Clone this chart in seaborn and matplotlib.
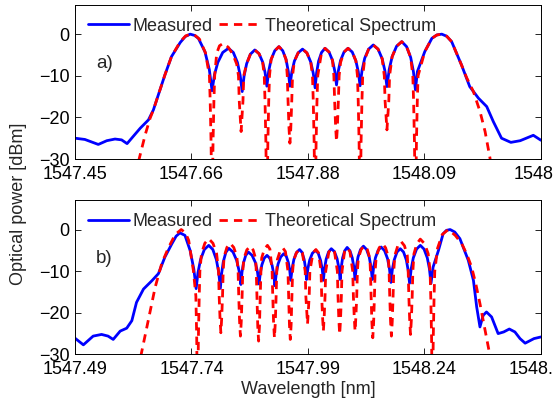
import matplotlib
matplotlib.use("Agg")
import matplotlib.pyplot as plt
import seaborn as sns
from matplotlib.lines import Line2D

# ---- panel a) ----
top_meas_wl = [
    1547.450, 1547.468, 1547.4925, 1547.508, 1547.523, 1547.535, 1547.545, 1547.556, 1547.569, 1547.584,
    1547.593, 1547.602, 1547.614, 1547.626, 1547.642, 1547.651, 1547.660, 1547.668, 1547.675, 1547.687,
    1547.695, 1547.700,
    1547.7045, 1547.7105, 1547.7195, 1547.730, 1547.7388, 1547.7463, 1547.7513, 1547.755,
    1547.7585, 1547.7631, 1547.7700, 1547.778, 1547.7857, 1547.7923, 1547.7967, 1547.800,
    1547.8033, 1547.8077, 1547.8143, 1547.822, 1547.829, 1547.835, 1547.839, 1547.842,
    1547.8455, 1547.8501, 1547.857, 1547.865, 1547.873, 1547.880, 1547.8846, 1547.888,
    1547.8907, 1547.8943, 1547.8997, 1547.906, 1547.9134, 1547.9197, 1547.9239, 1547.927,
    1547.9302, 1547.9344, 1547.9407, 1547.948, 1547.9557, 1547.9623, 1547.9667, 1547.970,
    1547.9736, 1547.9784, 1547.9856, 1547.994, 1548.0028, 1548.0103, 1548.0153, 1548.019,
    1548.0231, 1548.0285, 1548.0366, 1548.046, 1548.0548, 1548.0623, 1548.0673, 1548.071,
    1548.0745, 1548.088, 1548.101, 1548.110, 1548.119, 1548.128, 1548.137, 1548.155, 1548.170, 1548.186,
    1548.201, 1548.213, 1548.228, 1548.245, 1548.262, 1548.286, 1548.300]
top_meas_db = [
    -25.0, -25.3, -26.5, -25.6, -25.2, -25.4, -26.3, -24.6, -22.6, -20.6,
    -18.2, -14.6, -9.8, -5.4, -2.0, -0.6, 0.0, -0.3, -1.0, -4.2,
    -8.5, -13.6,
    -9.7, -6.8, -4.4, -3.4, -4.4, -6.8, -9.9, -13.8,
    -10.0, -7.1, -4.8, -3.8, -4.7, -6.7, -9.2, -12.5,
    -8.9, -6.1, -4.0, -3.0, -4.0, -6.1, -8.9, -12.5,
    -9.1, -6.5, -4.5, -3.6, -4.5, -6.7, -9.4, -12.9,
    -9.3, -6.5, -4.4, -3.4, -4.3, -6.3, -8.9, -12.2,
    -8.9, -6.3, -4.3, -3.4, -4.3, -6.4, -9.0, -12.4,
    -8.7, -5.8, -3.6, -2.6, -3.6, -5.9, -8.8, -12.6,
    -8.5, -5.4, -2.9, -1.8, -3.0, -5.6, -9.0, -13.4,
    -9.0, -4.2, -1.0, -0.2, 0.0, -0.5, -1.8, -7.4, -12.6, -15.4,
    -17.4, -21.0, -25.0, -26.0, -25.6, -24.3, -25.5]

top_theo_wl = [
    1547.562, 1547.567, 1547.578, 1547.587, 1547.593, 1547.602, 1547.614, 1547.626, 1547.642, 1547.652,
    1547.662, 1547.670, 1547.677, 1547.688,
    1547.6952, 1547.6966, 1547.6982, 1547.700, 1547.7018, 1547.7034, 1547.7048,
    1547.7085, 1547.7135, 1547.7205, 1547.730, 1547.7385, 1547.745,
    1547.7482, 1547.7496, 1547.7514, 1547.753, 1547.7546, 1547.7564, 1547.7578,
    1547.7631, 1547.770, 1547.778, 1547.7857, 1547.7923,
    1547.7952, 1547.7966, 1547.7982, 1547.800, 1547.8018, 1547.8034, 1547.8048,
    1547.8077, 1547.8143, 1547.822, 1547.829, 1547.835,
    1547.8372, 1547.8386, 1547.8404, 1547.842, 1547.8436, 1547.8454, 1547.8468,
    1547.8501, 1547.857, 1547.865, 1547.873, 1547.880,
    1547.8832, 1547.8846, 1547.8862, 1547.888, 1547.8898, 1547.8914, 1547.8928,
    1547.8997, 1547.906, 1547.9134, 1547.9197,
    1547.9222, 1547.9236, 1547.9254, 1547.927, 1547.9286, 1547.9304, 1547.9318,
    1547.9344, 1547.9407, 1547.948, 1547.9557, 1547.9623,
    1547.9652, 1547.9666, 1547.9682, 1547.970, 1547.9718, 1547.9734, 1547.9748,
    1547.9784, 1547.9856, 1547.994, 1548.0028, 1548.0103,
    1548.0142, 1548.0156, 1548.0174, 1548.019, 1548.0206, 1548.0224, 1548.0238,
    1548.0285, 1548.0366, 1548.046, 1548.0548, 1548.0623,
    1548.0662, 1548.0676, 1548.0692, 1548.071, 1548.0728, 1548.0744, 1548.0758,
    1548.088, 1548.101, 1548.110, 1548.119, 1548.128, 1548.137, 1548.155, 1548.1645,
    1548.1767, 1548.1888, 1548.198, 1548.207, 1548.210]
top_theo_db = [
    -34.0, -30.0, -24.2, -20.2, -18.2, -14.6, -9.8, -5.4, -1.8, -0.4,
    0.0, -0.4, -1.2, -4.5,
    -10.0, -16.0, -26.0, -45.0, -26.0, -16.0, -10.0,
    -4.6, -2.8, -2.2, -3.2, -5.0, -7.2,
    -10.0, -16.0, -19.9, -23.4, -19.9, -16.0, -10.0,
    -7.1, -4.8, -3.8, -4.7, -6.7,
    -10.0, -16.0, -26.0, -45.0, -26.0, -16.0, -10.0,
    -6.1, -4.0, -3.0, -4.0, -6.1,
    -10.0, -16.0, -22.7, -26.2, -22.7, -16.0, -10.0,
    -6.5, -4.5, -3.6, -4.5, -6.7,
    -10.0, -16.0, -26.0, -45.0, -26.0, -16.0, -10.0,
    -4.4, -3.4, -4.3, -6.3,
    -10.0, -16.0, -22.3, -25.8, -22.3, -16.0, -10.0,
    -6.8, -4.3, -3.4, -4.3, -6.4,
    -10.0, -16.0, -26.0, -45.0, -26.0, -16.0, -10.0,
    -6.0, -3.6, -2.6, -3.6, -5.9,
    -10.0, -16.0, -19.5, -23.0, -19.5, -16.0, -10.0,
    -5.4, -2.9, -1.8, -3.0, -5.6,
    -10.0, -16.0, -26.0, -45.0, -26.0, -16.0, -10.0,
    -4.2, -1.0, -0.2, 0.0, -0.5, -1.8, -7.4, -10.5,
    -13.8, -18.6, -23.4, -29.8, -34.0]

# ---- panel b) ----
bot_meas_wl = [
    1547.490, 1547.508, 1547.529, 1547.547, 1547.561, 1547.572, 1547.587, 1547.601, 1547.612, 1547.622,
    1547.637, 1547.655, 1547.669, 1547.683, 1547.698, 1547.707, 1547.715, 1547.726, 1547.737, 1547.745,
    1547.750,
    1547.754, 1547.7595, 1547.7676, 1547.777, 1547.7858, 1547.7933, 1547.7983, 1547.802,
    1547.8047, 1547.8083, 1547.8137, 1547.820, 1547.8291, 1547.8369, 1547.8421, 1547.846,
    1547.8484, 1547.8516, 1547.8564, 1547.862, 1547.870, 1547.877, 1547.8816, 1547.885,
    1547.8876, 1547.891, 1547.896, 1547.902, 1547.908, 1547.913, 1547.9165, 1547.919,
    1547.9219, 1547.9257, 1547.9314, 1547.938, 1547.9433, 1547.9478, 1547.9508, 1547.953,
    1547.9559, 1547.9597, 1547.9654, 1547.972, 1547.9773, 1547.9818, 1547.9848, 1547.987,
    1547.9899, 1547.9937, 1547.9994, 1548.006, 1548.012, 1548.017, 1548.0205, 1548.023,
    1548.0256, 1548.029, 1548.034, 1548.040, 1548.0467, 1548.0524, 1548.0562, 1548.059,
    1548.0613, 1548.0643, 1548.0688, 1548.074, 1548.080, 1548.085, 1548.0885, 1548.091,
    1548.0937, 1548.0973, 1548.1027, 1548.109, 1548.1157, 1548.1214, 1548.1252, 1548.128,
    1548.1309, 1548.1347, 1548.1404, 1548.147, 1548.1544, 1548.1607, 1548.1649, 1548.168,
    1548.171, 1548.175, 1548.181, 1548.188, 1548.195, 1548.201, 1548.205, 1548.208,
    1548.2115, 1548.216, 1548.223, 1548.231, 1548.239, 1548.246, 1548.2505, 1548.254,
    1548.2585, 1548.270, 1548.280, 1548.287, 1548.295, 1548.305, 1548.316, 1548.334, 1548.345, 1548.352,
    1548.359, 1548.366, 1548.373, 1548.384, 1548.398, 1548.410, 1548.422, 1548.434, 1548.445, 1548.456,
    1548.475, 1548.490]
bot_meas_db = [
    -26.1, -27.7, -25.6, -25.2, -25.6, -26.4, -24.4, -23.7, -21.9, -17.5,
    -14.3, -12.3, -10.6, -6.6, -3.4, -1.6, -0.8, -1.4, -5.0, -9.5,
    -14.2,
    -10.3, -7.2, -4.8, -3.8, -4.8, -7.2, -10.2, -14.1,
    -10.5, -7.7, -5.5, -4.5, -5.4, -7.4, -9.9, -13.2,
    -10.2, -8.0, -6.2, -5.4, -6.2, -7.9, -10.2, -13.1,
    -10.5, -8.5, -6.9, -6.2, -6.9, -8.6, -10.7, -13.5,
    -10.6, -8.3, -6.6, -5.8, -6.4, -7.9, -9.8, -12.2,
    -9.4, -7.2, -5.5, -4.8, -5.5, -7.2, -9.3, -12.0,
    -9.3, -7.3, -5.7, -5.0, -5.7, -7.4, -9.5, -12.2,
    -9.3, -7.1, -5.4, -4.6, -5.3, -7.0, -9.2, -12.0,
    -9.1, -6.8, -5.1, -4.3, -5.1, -6.8, -9.1, -12.0,
    -9.0, -6.6, -4.8, -4.0, -4.8, -6.6, -9.0, -12.0,
    -9.0, -6.8, -5.0, -4.2, -5.1, -7.0, -9.5, -12.7,
    -9.6, -7.3, -5.4, -4.6, -5.4, -7.3, -9.8, -12.9,
    -9.4, -6.8, -4.7, -3.8, -4.7, -6.8, -9.4, -12.9,
    -9.0, -5.0, -1.0, -0.2, 0.0, -0.6, -2.2, -7.4, -12.2, -18.6,
    -23.4, -20.6, -19.8, -21.0, -25.0, -24.6, -23.9, -24.6, -26.2, -27.3,
    -26.2, -25.8]

bot_theo_wl = [
    1547.629, 1547.632, 1547.647, 1547.662, 1547.676, 1547.690, 1547.705, 1547.718, 1547.727, 1547.734,
    1547.744,
    1547.7494, 1547.7512, 1547.753, 1547.7548, 1547.7566, 1547.758,
    1547.7614, 1547.7686, 1547.777, 1547.7861, 1547.7939,
    1547.798, 1547.7994, 1547.8012, 1547.803, 1547.8048, 1547.8066, 1547.808,
    1547.810, 1547.816, 1547.823, 1547.8307, 1547.8373,
    1547.840, 1547.8414, 1547.8432, 1547.845, 1547.8468, 1547.8486, 1547.850,
    1547.8524, 1547.8587, 1547.866, 1547.8723, 1547.8777,
    1547.879, 1547.8804, 1547.8822, 1547.884, 1547.8858, 1547.8876, 1547.889,
    1547.8907, 1547.8964, 1547.903, 1547.9083,
    1547.913, 1547.9144, 1547.9162, 1547.918, 1547.9198, 1547.9216, 1547.923,
    1547.9243, 1547.9297, 1547.936, 1547.9416,
    1547.947, 1547.9484, 1547.9502, 1547.952, 1547.9538, 1547.9556, 1547.957,
    1547.959, 1547.965, 1547.972, 1547.978,
    1547.984, 1547.9854, 1547.9872, 1547.989, 1547.9908, 1547.9926, 1547.994,
    1548.0007, 1548.007, 1548.0126,
    1548.018, 1548.0194, 1548.0212, 1548.023, 1548.0248, 1548.0266, 1548.028,
    1548.0347, 1548.041, 1548.047,
    1548.053, 1548.0544, 1548.0562, 1548.058, 1548.0598, 1548.0616, 1548.063,
    1548.0684, 1548.074, 1548.080,
    1548.086, 1548.0874, 1548.0892, 1548.091, 1548.0928, 1548.0946, 1548.096,
    1548.098, 1548.104, 1548.111, 1548.1173, 1548.1227,
    1548.124, 1548.1254, 1548.1272, 1548.129, 1548.1308, 1548.1326, 1548.134,
    1548.1364, 1548.1427, 1548.150, 1548.1566, 1548.1624,
    1548.164, 1548.1654, 1548.1672, 1548.169, 1548.1708, 1548.1726, 1548.174,
    1548.1764, 1548.1827, 1548.190, 1548.197, 1548.203,
    1548.205, 1548.2064, 1548.2082, 1548.210, 1548.2118, 1548.2136, 1548.215,
    1548.2174, 1548.2237, 1548.231, 1548.2401, 1548.2479,
    1548.252, 1548.2534, 1548.2552, 1548.257, 1548.2588, 1548.2606, 1548.262,
    1548.268, 1548.278, 1548.291, 1548.306, 1548.320, 1548.331, 1548.341, 1548.350, 1548.359, 1548.370,
    1548.380, 1548.383]
bot_theo_db = [
    -34.0, -30.0, -21.9, -13.9, -8.2, -4.5, -1.2, 0.0, -0.8, -2.6,
    -9.8,
    -16.0, -26.0, -45.0, -26.0, -16.0, -10.0,
    -5.8, -3.3, -2.2, -3.3, -5.8,
    -10.0, -16.0, -21.3, -24.8, -21.3, -16.0, -10.0,
    -6.5, -4.3, -3.3, -4.3, -6.5,
    -10.0, -16.0, -22.1, -25.6, -22.1, -16.0, -10.0,
    -7.0, -4.9, -4.0, -4.9, -7.0,
    -10.0, -16.0, -23.3, -26.8, -23.3, -16.0, -10.0,
    -6.8, -4.7, -3.8, -4.7,
    -10.0, -16.0, -22.5, -26.0, -22.5, -16.0, -10.0,
    -7.2, -5.3, -4.4, -5.3,
    -10.0, -16.0, -22.9, -26.4, -22.9, -16.0, -10.0,
    -7.5, -5.6, -4.8, -5.6,
    -10.0, -16.0, -19.2, -22.7, -19.2, -16.0, -10.0,
    -5.6, -4.8, -5.6,
    -10.0, -16.0, -20.9, -24.4, -20.9, -16.0, -10.0,
    -5.4, -4.6, -5.4,
    -10.0, -16.0, -21.7, -25.2, -21.7, -16.0, -10.0,
    -5.3, -4.4, -5.3,
    -10.0, -16.0, -20.9, -24.4, -20.9, -16.0, -10.0,
    -6.9, -4.8, -3.9, -4.8, -6.9,
    -10.0, -16.0, -22.5, -26.0, -22.5, -16.0, -10.0,
    -6.6, -4.4, -3.4, -4.4, -6.6,
    -10.0, -16.0, -22.1, -25.6, -22.1, -16.0, -10.0,
    -6.2, -3.9, -2.9, -3.9, -6.2,
    -10.0, -16.0, -21.7, -25.2, -21.7, -16.0, -10.0,
    -5.8, -3.4, -2.3, -3.4, -5.8,
    -10.0, -16.0, -26.0, -45.0, -26.0, -16.0, -10.0,
    -4.5, -1.2, 0.0, -1.4, -3.4, -6.0, -9.0, -13.0, -17.8, -24.2,
    -30.0, -34.0]

# axis ticks and labels
top_ticks = [1547.45, 1547.6625, 1547.875, 1548.0875, 1548.30]
top_tick_labels = ["1547.45", "1547.66", "1547.88", "1548.09", "1548.3"]
bot_ticks = [1547.49, 1547.74, 1547.99, 1548.24, 1548.49]
bot_tick_labels = ["1547.49", "1547.74", "1547.99", "1548.24", "1548.49"]
y_ticks = [-30, -20, -10, 0]
panel_tags = ["a)", "b)"]
legend_labels = ["Measured", "Theoretical Spectrum"]

sns.set_theme(style="ticks")
plt.rcParams["font.family"] = ["Liberation Sans", "DejaVu Sans"]
plt.rcParams["font.size"] = 13

fig = plt.figure(figsize=(5.53, 4.07), dpi=100)
ax_top = fig.add_axes([0.1356, 0.6093, 0.8427, 0.3784])
ax_bot = fig.add_axes([0.1356, 0.1292, 0.8427, 0.3784])

panels = [
    (ax_top, top_meas_wl, top_meas_db, top_theo_wl, top_theo_db, top_ticks, top_tick_labels),
    (ax_bot, bot_meas_wl, bot_meas_db, bot_theo_wl, bot_theo_db, bot_ticks, bot_tick_labels),
]

for i, (ax, mx, my, tx, ty, ticks, labels) in enumerate(panels):
    sns.lineplot(x=mx, y=my, ax=ax, color="#0000ff", lw=2.0, sort=False, estimator=None)
    sns.lineplot(x=tx, y=ty, ax=ax, color="#ff0000", lw=2.0, sort=False, estimator=None,
                 dashes=(3.0, 2.2))
    ax.set_xlim(ticks[0], ticks[-1])
    ax.set_ylim(-30, 7)
    ax.set_xticks(ticks)
    ax.set_xticklabels(labels)
    ax.set_yticks(y_ticks)
    ax.tick_params(direction="in", length=4, width=0.6, top=True, right=True,
                   labelsize=13, colors="black")
    ax.tick_params(axis="x", pad=5)
    ax.tick_params(axis="y", pad=4)
    for sp in ax.spines.values():
        sp.set_visible(True)
        sp.set_color("black")
        sp.set_linewidth(0.7)
    ax.set_xlabel("")
    ax.set_ylabel("")
    ax.text(0.045, 0.62, panel_tags[i], transform=ax.transAxes, fontsize=13.5,
            ha="left", va="center")
    handles = [Line2D([], [], color="#0000ff", lw=2.0),
               Line2D([], [], color="#ff0000", lw=2.0, dashes=(3.0, 2.2))]
    ax.legend(handles, legend_labels, loc="upper left", bbox_to_anchor=(0.012, 0.965),
              ncol=2, frameon=False, fontsize=13, handlelength=2.3,
              handletextpad=0.2, columnspacing=0.35, borderaxespad=0.2,
              borderpad=0.2)

fig.text(0.033, 0.5, "Optical power [dBm]", rotation=90, ha="center", va="center", fontsize=13)
fig.text(0.558, 0.044, "Wavelength [nm]", ha="center", va="center", fontsize=13)

fig.savefig("out.png", dpi=100)
